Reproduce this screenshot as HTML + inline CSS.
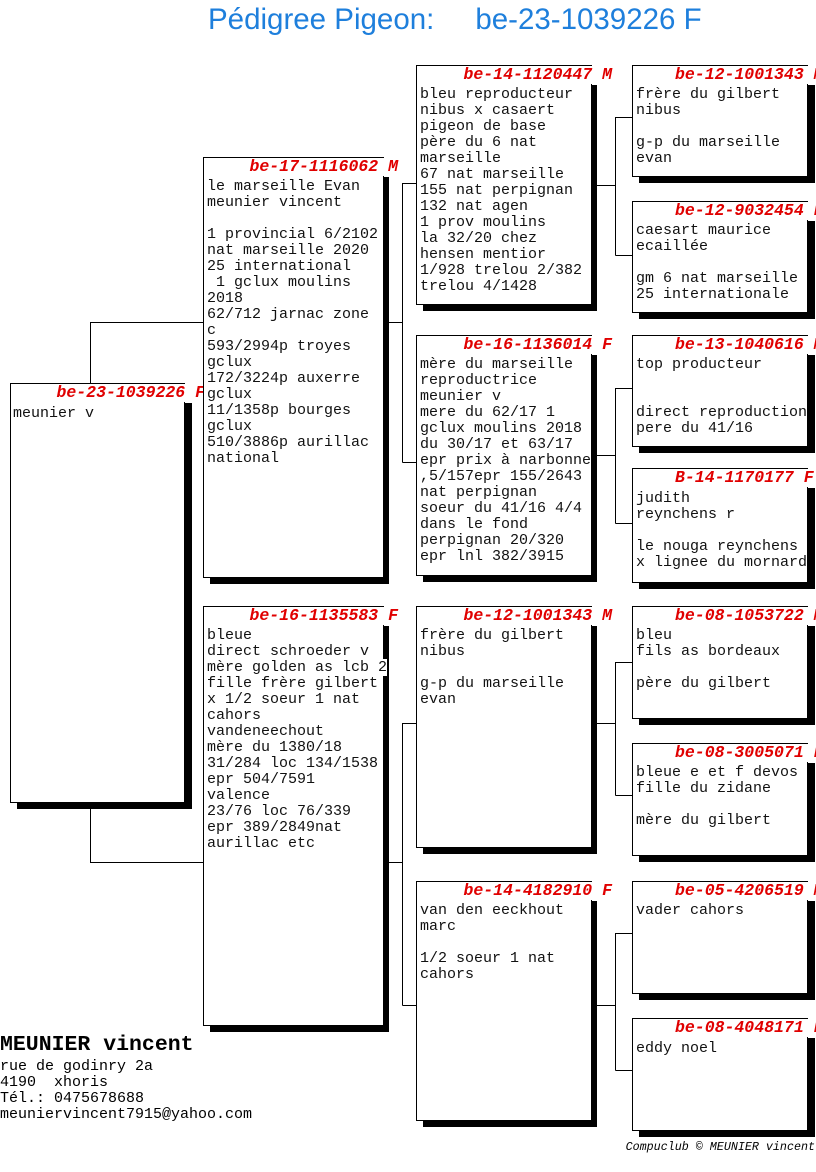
<!DOCTYPE html>
<html><head><meta charset="utf-8">
<style>
html,body{margin:0;padding:0;}
body{width:816px;height:1172px;position:relative;overflow:hidden;background:#fff;font-family:"Liberation Mono",monospace;}
.t{position:absolute;left:208px;top:3px;font-family:"Liberation Sans",sans-serif;font-size:29.5px;color:#1e7fdc;white-space:pre;}
.sh{position:absolute;background:#000;}
.b{position:absolute;border:1px solid #000;background:#fff;box-sizing:border-box;}
.h{position:absolute;font-weight:bold;font-style:italic;font-size:16.5px;color:#e00000;white-space:pre;line-height:18px;background:#fff;}
.x{position:absolute;font-size:15px;line-height:16px;white-space:pre;color:#111;}
.x span{background:#fff;}
svg{position:absolute;left:0;top:0;}
</style></head><body>
<div class="t">Pédigree Pigeon:     be-23-1039226 F</div>
<svg width="816" height="1172"><g stroke="#000" stroke-width="1" fill="none">
<path d="M90.5 383V322.5H203M90.5 802V862.5H203"/>
<path d="M389 322.5H402.5M402.5 183V462.5M402.5 183.5H416M402.5 462.5H416"/>
<path d="M389 862.5H402.5M402.5 723V1005.5M402.5 723.5H416M402.5 1005.5H416"/>
<path d="M597 185.5H615.5M615.5 117V255.5M615.5 117.5H632M615.5 255.5H632"/>
<path d="M597 455.5H615.5M615.5 388V523.5M615.5 388.5H632M615.5 523.5H632"/>
<path d="M597 723.5H615.5M615.5 662V795.5M615.5 662.5H632M615.5 795.5H632"/>
<path d="M597 1005.5H615.5M615.5 933V1070.5M615.5 933.5H632M615.5 1070.5H632"/>
</g></svg>

<!-- G1 -->
<div class="sh" style="left:17px;top:403px;width:175px;height:406px"></div>
<div class="b" style="left:10px;top:383px;width:175px;height:420px"></div>
<div class="h" style="right:611px;top:384px">be-23-1039226 F</div>
<div class="x" style="left:13px;top:406px"><span>meunier v</span></div>

<!-- G2a -->
<div class="sh" style="left:210px;top:177px;width:179px;height:407px"></div>
<div class="b" style="left:203px;top:157px;width:181px;height:421px"></div>
<div class="h" style="right:418px;top:158px">be-17-1116062 M</div>
<div class="x" style="left:207px;top:179px"><span>le marseille Evan</span>
<span>meunier vincent</span>

<span>1 provincial 6/2102</span>
<span>nat marseille 2020</span>
<span>25 international</span>
<span> 1 gclux moulins</span>
<span>2018</span>
<span>62/712 jarnac zone</span>
<span>c</span>
<span>593/2994p troyes</span>
<span>gclux</span>
<span>172/3224p auxerre</span>
<span>gclux</span>
<span>11/1358p bourges</span>
<span>gclux</span>
<span>510/3886p aurillac</span>
<span>national</span></div>

<!-- G2b -->
<div class="sh" style="left:210px;top:626px;width:179px;height:406px"></div>
<div class="b" style="left:203px;top:606px;width:181px;height:420px"></div>
<div class="h" style="right:418px;top:607px">be-16-1135583 F</div>
<div class="x" style="left:207px;top:628px"><span>bleue</span>
<span>direct schroeder v</span>
<span>mère golden as lcb 2</span>
<span>fille frère gilbert</span>
<span>x 1/2 soeur 1 nat</span>
<span>cahors</span>
<span>vandeneechout</span>
<span>mère du 1380/18</span>
<span>31/284 loc 134/1538</span>
<span>epr 504/7591</span>
<span>valence</span>
<span>23/76 loc 76/339</span>
<span>epr 389/2849nat</span>
<span>aurillac etc</span></div>

<!-- G3a -->
<div class="sh" style="left:423px;top:85px;width:174px;height:226px"></div>
<div class="b" style="left:416px;top:65px;width:176px;height:240px"></div>
<div class="h" style="right:204px;top:66px">be-14-1120447 M</div>
<div class="x" style="left:420px;top:87px"><span>bleu reproducteur</span>
<span>nibus x casaert</span>
<span>pigeon de base</span>
<span>père du 6 nat</span>
<span>marseille</span>
<span>67 nat marseille</span>
<span>155 nat perpignan</span>
<span>132 nat agen</span>
<span>1 prov moulins</span>
<span>la 32/20 chez</span>
<span>hensen mentior</span>
<span>1/928 trelou 2/382</span>
<span>trelou 4/1428</span></div>

<!-- G3b -->
<div class="sh" style="left:423px;top:355px;width:174px;height:227px"></div>
<div class="b" style="left:416px;top:335px;width:176px;height:241px"></div>
<div class="h" style="right:204px;top:336px">be-16-1136014 F</div>
<div class="x" style="left:420px;top:357px"><span>mère du marseille</span>
<span>reproductrice</span>
<span>meunier v</span>
<span>mere du 62/17 1</span>
<span>gclux moulins 2018</span>
<span>du 30/17 et 63/17</span>
<span>epr prix à narbonne</span>
<span>,5/157epr 155/2643</span>
<span>nat perpignan</span>
<span>soeur du 41/16 4/4</span>
<span>dans le fond</span>
<span>perpignan 20/320</span>
<span>epr lnl 382/3915</span></div>

<!-- G3c -->
<div class="sh" style="left:423px;top:626px;width:174px;height:228px"></div>
<div class="b" style="left:416px;top:606px;width:176px;height:242px"></div>
<div class="h" style="right:204px;top:607px">be-12-1001343 M</div>
<div class="x" style="left:420px;top:628px"><span>frère du gilbert</span>
<span>nibus</span>

<span>g-p du marseille</span>
<span>evan</span></div>

<!-- G3d -->
<div class="sh" style="left:423px;top:901px;width:174px;height:226px"></div>
<div class="b" style="left:416px;top:881px;width:176px;height:240px"></div>
<div class="h" style="right:204px;top:882px">be-14-4182910 F</div>
<div class="x" style="left:420px;top:903px"><span>van den eeckhout</span>
<span>marc</span>

<span>1/2 soeur 1 nat</span>
<span>cahors</span></div>

<!-- G4 -->
<div class="sh" style="left:639px;top:85px;width:176px;height:98px"></div>
<div class="b" style="left:632px;top:65px;width:176px;height:112px"></div>
<div class="h" style="left:675px;top:66px">be-12-1001343 M</div>
<div class="x" style="left:636px;top:87px"><span>frère du gilbert</span>
<span>nibus</span>

<span>g-p du marseille</span>
<span>evan</span></div>

<div class="sh" style="left:639px;top:221px;width:176px;height:98px"></div>
<div class="b" style="left:632px;top:201px;width:176px;height:112px"></div>
<div class="h" style="left:675px;top:202px">be-12-9032454 F</div>
<div class="x" style="left:636px;top:223px"><span>caesart maurice</span>
<span>ecaillée</span>

<span>gm 6 nat marseille</span>
<span>25 internationale</span></div>

<div class="sh" style="left:639px;top:355px;width:176px;height:98px"></div>
<div class="b" style="left:632px;top:335px;width:176px;height:112px"></div>
<div class="h" style="left:675px;top:336px">be-13-1040616 M</div>
<div class="x" style="left:636px;top:357px"><span>top producteur</span>


<span>direct reproduction</span>
<span>pere du 41/16</span></div>

<div class="sh" style="left:639px;top:488px;width:176px;height:101px"></div>
<div class="b" style="left:632px;top:468px;width:176px;height:115px"></div>
<div class="h" style="left:675px;top:469px">B-14-1170177 F</div>
<div class="x" style="left:636px;top:491px"><span>judith</span>
<span>reynchens r</span>

<span>le nouga reynchens</span>
<span>x lignee du mornard</span></div>

<div class="sh" style="left:639px;top:626px;width:176px;height:99px"></div>
<div class="b" style="left:632px;top:606px;width:176px;height:113px"></div>
<div class="h" style="left:675px;top:607px">be-08-1053722 M</div>
<div class="x" style="left:636px;top:628px"><span>bleu</span>
<span>fils as bordeaux</span>

<span>père du gilbert</span></div>

<div class="sh" style="left:639px;top:763px;width:176px;height:99px"></div>
<div class="b" style="left:632px;top:743px;width:176px;height:113px"></div>
<div class="h" style="left:675px;top:744px">be-08-3005071 F</div>
<div class="x" style="left:636px;top:765px"><span>bleue e et f devos</span>
<span>fille du zidane</span>

<span>mère du gilbert</span></div>

<div class="sh" style="left:639px;top:901px;width:176px;height:99px"></div>
<div class="b" style="left:632px;top:881px;width:176px;height:113px"></div>
<div class="h" style="left:675px;top:882px">be-05-4206519 M</div>
<div class="x" style="left:636px;top:903px"><span>vader cahors</span></div>

<div class="sh" style="left:639px;top:1038px;width:176px;height:99px"></div>
<div class="b" style="left:632px;top:1018px;width:176px;height:113px"></div>
<div class="h" style="left:675px;top:1019px">be-08-4048171 F</div>
<div class="x" style="left:636px;top:1041px"><span>eddy noel</span></div>

<!-- owner -->
<div style="position:absolute;left:0;top:1033px;font-size:21.5px;font-weight:bold;line-height:24px;white-space:pre">MEUNIER vincent</div>
<div style="position:absolute;left:0;top:1059px;font-size:15px;line-height:16px;white-space:pre">rue de godinry 2a
4190  xhoris
Tél.: 0475678688
meuniervincent7915@yahoo.com</div>
<div style="position:absolute;right:1px;top:1140px;font-size:11.7px;font-style:italic;white-space:pre">Compuclub © MEUNIER vincent</div>
</body></html>
